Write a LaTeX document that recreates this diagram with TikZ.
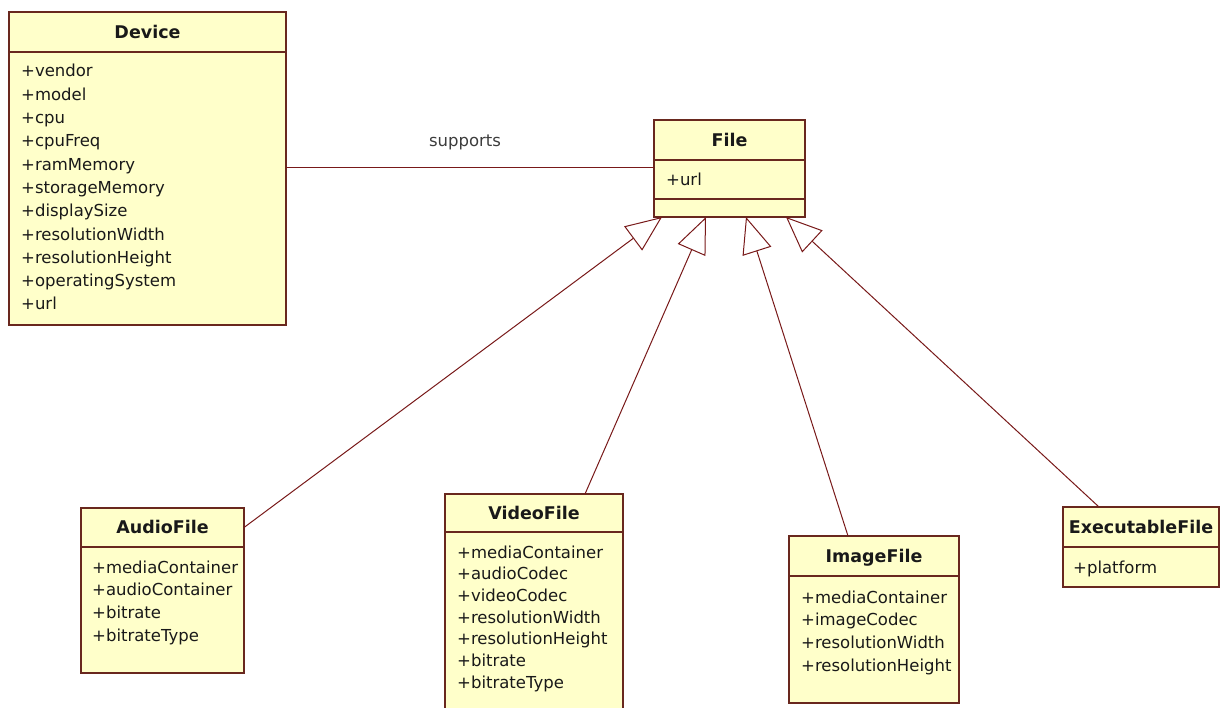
\documentclass[tikz,border=0pt]{standalone}
\usepackage{fontspec}
\setmainfont{DejaVu Sans}
\usetikzlibrary{arrows.meta}

\definecolor{classfill}{RGB}{255,255,202}
\definecolor{classline}{RGB}{105,40,30}
\definecolor{linkline}{RGB}{120,25,25}
\definecolor{textdark}{RGB}{25,25,25}
\definecolor{labeltext}{RGB}{60,60,60}

\begin{document}
\begin{tikzpicture}[x=1pt,y=-1pt,
  compartment/.style={draw=classline, fill=classfill, line width=1.4pt,
    inner sep=0pt, outer sep=0pt, anchor=north west},
  classname/.style={compartment, text=textdark,
    font=\fontsize{17.5}{20}\selectfont\bfseries,
    text height=12.5pt, text depth=0pt},
  attr/.style={anchor=base west, inner sep=0pt, text=textdark,
    font=\fontsize{16.5}{20}\selectfont},
  assoc/.style={draw=linkline, line width=1pt},
  generalize/.style={draw=linkline, line width=1pt,
    -{Triangle[open, length=36pt, width=30pt]}},
]
\useasboundingbox (0,0) rectangle (1221,708);

% ---- Device ----
\node[classname, minimum width=277, minimum height=40] (dev) at (9,12) {Device};
\node[compartment, minimum width=277, minimum height=273] (devB) at (dev.south west) {};
\foreach \a [count=\i] in {+vendor,+model,+cpu,+cpuFreq,+ramMemory,+storageMemory,
    +displaySize,+resolutionWidth,+resolutionHeight,+operatingSystem,+url}
  \node[attr] (dev-a\i) at (21,{77+23.3*(\i-1)}) {\a};

% ---- File ----
\node[classname, minimum width=151, minimum height=40] (file) at (654,120) {File};
\node[compartment, minimum width=151, minimum height=39] (fileB) at (file.south west) {};
\node[compartment, minimum width=151, minimum height=18] (fileC) at (fileB.south west) {};
\node[attr] (file-a1) at (666,186) {+url};

% ---- AudioFile ----
\node[classname, minimum width=163, minimum height=39] (audio) at (81,508) {AudioFile};
\node[compartment, minimum width=163, minimum height=126] (audioB) at (audio.south west) {};
\foreach \a [count=\i] in {+mediaContainer,+audioContainer,+bitrate,+bitrateType}
  \node[attr] (audio-a\i) at (92,{573+22.7*(\i-1)}) {\a};

% ---- VideoFile ----
\node[classname, minimum width=178, minimum height=38] (video) at (445,494) {VideoFile};
\node[compartment, minimum width=178, minimum height=200] (videoB) at (video.south west) {};
\foreach \a [count=\i] in {+mediaContainer,+audioCodec,+videoCodec,+resolutionWidth,
    +resolutionHeight,+bitrate,+bitrateType}
  \node[attr] (video-a\i) at (457,{558+21.7*(\i-1)}) {\a};

% ---- ImageFile ----
\node[classname, minimum width=170, minimum height=40] (image) at (789,536) {ImageFile};
\node[compartment, minimum width=170, minimum height=127] (imageB) at (image.south west) {};
\foreach \a [count=\i] in {+mediaContainer,+imageCodec,+resolutionWidth,+resolutionHeight}
  \node[attr] (image-a\i) at (801,{603+22.7*(\i-1)}) {\a};

% ---- ExecutableFile ----
\node[classname, minimum width=156, minimum height=40] (exec) at (1063,507) {ExecutableFile};
\node[compartment, minimum width=156, minimum height=40] (execB) at (exec.south west) {};
\node[attr] (exec-a1) at (1073,573) {+platform};

% ---- association ----
\coordinate (fileIn) at ([yshift=11.5pt]fileB.west);
\draw[assoc] (devB.east |- fileIn) -- (fileIn);
\node[text=labeltext, font=\fontsize{16.5}{20}\selectfont, inner sep=0pt]
  (supports) at (465,142) {supports};

% ---- generalizations ----
\draw[generalize] (audio.east) -- ([xshift=8pt]fileC.south west);
\draw[generalize] ([xshift=-38pt]video.north east) -- ([xshift=52pt]fileC.south west);
\draw[generalize] ([xshift=59pt]image.north west) -- ([xshift=92pt]fileC.south west);
\draw[generalize] ([xshift=36pt]exec.north west) -- ([xshift=132pt]fileC.south west);
\end{tikzpicture}
\end{document}
